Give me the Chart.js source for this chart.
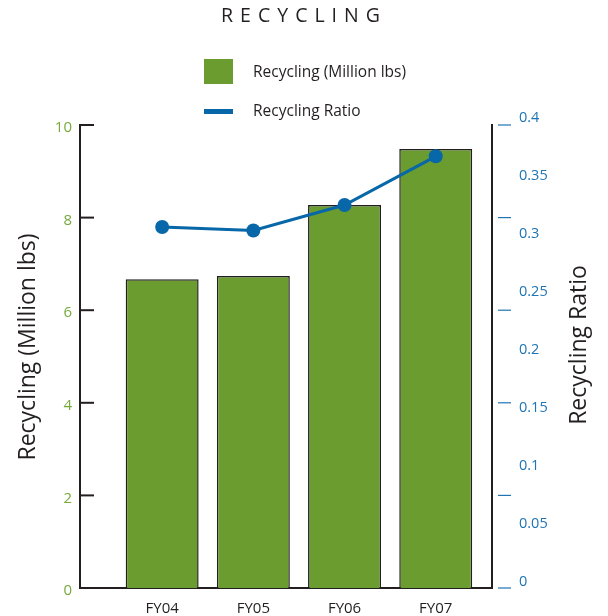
<!DOCTYPE html>
<html>
<head>
<meta charset="utf-8">
<script src="https://cdn.jsdelivr.net/npm/chart.js@4.4.1/dist/chart.umd.min.js"></script>
<style>
  html, body { margin: 0; padding: 0; background: #fff; }
  #wrap { position: relative; width: 608px; height: 616px; font-family: 'Open Sans', sans-serif; color: #231f20; }
  #chart { position: absolute; left: 0; top: 0; }
  #title { position: absolute; left: 0; top: 1px; width: 608px; text-align: center; font-size: 19.5px; letter-spacing: 7px; }
  #legend { position: absolute; left: 204px; top: 59px; font-size: 15.5px; }
  .item { position: relative; height: 38px; }
  .item span.txt { position: absolute; left: 49px; white-space: nowrap; }
</style>
</head>
<body>
<div id="wrap">
  <canvas id="chart" width="608" height="616"></canvas>
  <div id="title">RECYCLING</div>
  <div id="legend"></div>
</div>
<script>
// --- DATA ---
const categories = ['FY04', 'FY05', 'FY06', 'FY07'];
const recyclingMlbs = [6.67, 6.74, 8.27, 9.48];
const recyclingRatio = [0.306, 0.303, 0.325, 0.367];
const leftTicks = [0, 2, 4, 6, 8, 10];
const ratioTicks = [0, 0.05, 0.1, 0.15, 0.2, 0.25, 0.3, 0.35, 0.4];

const GREEN = '#6a9c2f';
const GREEN_TXT = '#76aa3c';
const BLUE = '#0767a8';
const BLUE_TXT = '#1f74b4';
const INK = '#231f20';

function drawVerticalTitle(ctx, text, x, y) {
  ctx.save();
  ctx.fillStyle = INK;
  ctx.font = '23px "Open Sans"';
  ctx.textAlign = 'center'; ctx.textBaseline = 'middle';
  ctx.translate(x, y);
  ctx.rotate(-Math.PI / 2);
  ctx.fillText(text, 0, 0);
  ctx.restore();
}

// axis decorations: inside ticks on the left, blue dashes on the right, both axis titles
const axisDeco = {
  id: 'axisDeco',
  afterDraw(chart) {
    const { ctx, chartArea } = chart;
    const y = chart.scales.y;
    ctx.save();
    y.ticks.forEach(t => {
      const py = y.getPixelForValue(t.value);
      if (t.value > 0) {
        ctx.strokeStyle = INK; ctx.lineWidth = 2;
        ctx.beginPath(); ctx.moveTo(chartArea.left, py); ctx.lineTo(chartArea.left + 14, py); ctx.stroke();
      }
      ctx.strokeStyle = BLUE_TXT; ctx.lineWidth = 1.2;
      ctx.beginPath(); ctx.moveTo(chartArea.right + 6, py); ctx.lineTo(chartArea.right + 19, py); ctx.stroke();
    });
    ctx.restore();
    drawVerticalTitle(ctx, chart.options.scales.y.title.text, 28, 347);
    drawVerticalTitle(ctx, chart.options.scales.y1.title.text, 579, 345);
  }
};

const chart = new Chart(document.getElementById('chart'), {
  type: 'bar',
  data: {
    datasets: [
      {
        type: 'line', label: 'Recycling Ratio', yAxisID: 'y1', order: 0,
        data: categories.map((c, i) => ({ x: i, y: recyclingRatio[i] })),
        borderColor: BLUE, backgroundColor: BLUE, borderWidth: 3,
        pointRadius: 7, pointBackgroundColor: BLUE, pointBorderWidth: 0, tension: 0
      },
      {
        label: 'Recycling (Million lbs)', yAxisID: 'y', order: 1,
        data: categories.map((c, i) => ({ x: i, y: recyclingMlbs[i] })),
        backgroundColor: GREEN, borderColor: INK, borderWidth: 1.5,
        barPercentage: 1, categoryPercentage: 0.8
      }
    ]
  },
  options: {
    responsive: false, animation: false,
    layout: { padding: { top: 125, left: 0, right: 0, bottom: 0 } },
    plugins: { legend: { display: false }, tooltip: { enabled: false } },
    scales: {
      x: {
        type: 'linear', min: -0.901, max: 3.617, offset: false,
        afterBuildTicks: s => { s.ticks = categories.map((c, i) => ({ value: i })); },
        afterFit: s => { s.height = 28; },
        grid: { display: false, drawTicks: false },
        border: { display: true, color: INK, width: 2 },
        ticks: { autoSkip: false, maxRotation: 0, padding: 12, color: INK, font: { family: 'Open Sans', size: 15 }, callback: v => categories[v] }
      },
      y: {
        position: 'left', min: 0, max: 10,
        afterBuildTicks: s => { s.ticks = leftTicks.map(v => ({ value: v })); },
        afterFit: s => { s.width = 80; s.paddingTop = 0; s.paddingBottom = 0; },
        grid: { display: false, drawTicks: false },
        border: { display: true, color: INK, width: 2 },
        ticks: { padding: 8, labelOffset: 3, color: GREEN_TXT, font: { family: 'Open Sans', size: 15 } },
        title: { display: false, text: 'Recycling (Million lbs)' }
      },
      y1: {
        position: 'right', min: -0.00517, max: 0.3940,
        afterBuildTicks: s => { s.ticks = ratioTicks.map(v => ({ value: v })); },
        afterFit: s => { s.width = 116; s.paddingTop = 0; s.paddingBottom = 0; },
        grid: { display: false, drawTicks: false },
        border: { display: true, color: INK, width: 2 },
        ticks: { autoSkip: false, padding: 27, color: BLUE_TXT, font: { family: 'Open Sans', size: 14.5 }, callback: v => String(v) },
        title: { display: false, text: 'Recycling Ratio' }
      }
    }
  },
  plugins: [axisDeco]
});

// HTML legend built from the datasets
const legend = document.getElementById('legend');
[chart.data.datasets[1], chart.data.datasets[0]].forEach(ds => {
  const item = document.createElement('div');
  item.className = 'item';
  const sw = document.createElement('span');
  sw.style.position = 'absolute';
  sw.style.left = '0px';
  sw.style.width = '29px';
  if (ds.type === 'line') { sw.style.top = '12px'; sw.style.height = '5px'; sw.style.background = ds.borderColor; }
  else { sw.style.top = '0px'; sw.style.height = '25px'; sw.style.background = ds.backgroundColor; }
  const txt = document.createElement('span');
  txt.className = 'txt';
  txt.style.top = ds.type === 'line' ? '2px' : '1px';
  txt.textContent = ds.label;
  item.appendChild(sw); item.appendChild(txt);
  legend.appendChild(item);
});
</script>
</body>
</html>
